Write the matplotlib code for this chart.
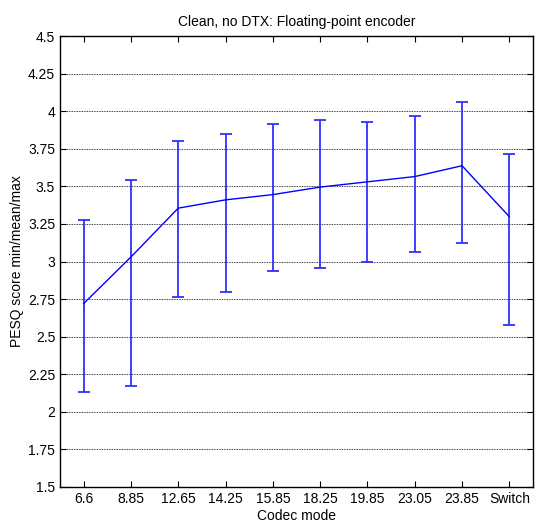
import matplotlib
matplotlib.use("Agg")
import matplotlib.pyplot as plt
import numpy as np

plt.rcParams['font.family'] = ['Liberation Sans', 'DejaVu Sans']

modes = ["6.6", "8.85", "12.65", "14.25", "15.85", "18.25", "19.85", "23.05", "23.85", "Switch"]
mean_vals = [2.72, 3.03, 3.355, 3.41, 3.445, 3.495, 3.53, 3.565, 3.637, 3.298]
min_vals = [2.13, 2.17, 2.765, 2.80, 2.935, 2.955, 2.995, 3.06, 3.121, 2.577]
max_vals = [3.276, 3.54, 3.80, 3.85, 3.915, 3.94, 3.93, 3.97, 4.063, 3.717]
yticks = [1.5, 1.75, 2, 2.25, 2.5, 2.75, 3, 3.25, 3.5, 3.75, 4, 4.25, 4.5]
ytick_labels = ["1.5", "1.75", "2", "2.25", "2.5", "2.75", "3", "3.25", "3.5", "3.75", "4", "4.25", "4.5"]

x = np.arange(1, len(modes) + 1)
mean = np.array(mean_vals)
lo = mean - np.array(min_vals)
hi = np.array(max_vals) - mean

fig = plt.figure(figsize=(5.35, 5.25), dpi=100)
ax = fig.add_axes([60/535, 1 - 487/525, 473/535, 451/525])

ax.errorbar(x, mean, yerr=[lo, hi], fmt='none', ecolor='#3030ff', elinewidth=1.3,
            capsize=4.3, capthick=1.3, zorder=3)
ax.plot(x, mean, color='#0000ff', lw=1.0, zorder=4)

ax.set_xlim(0.5, 10.5)
ax.set_ylim(1.5, 4.5)
ax.set_xticks(x)
ax.set_xticklabels(modes)
ax.set_yticks(yticks)
ax.set_yticklabels(ytick_labels)
ax.yaxis.grid(True, linestyle=(0, (1, 1)), color='black', linewidth=0.6)
ax.set_axisbelow(True)
ax.tick_params(direction='in', top=True, right=True, labelsize=10, length=4, width=0.8)
for s in ax.spines.values():
    s.set_linewidth(1.0)

ax.set_title("Clean, no DTX: Floating-point encoder", fontsize=10, pad=7)
ax.set_xlabel("Codec mode", fontsize=10, labelpad=2)
ax.set_ylabel("PESQ score min/mean/max", fontsize=10, labelpad=3)

fig.savefig("out.png", dpi=100)
